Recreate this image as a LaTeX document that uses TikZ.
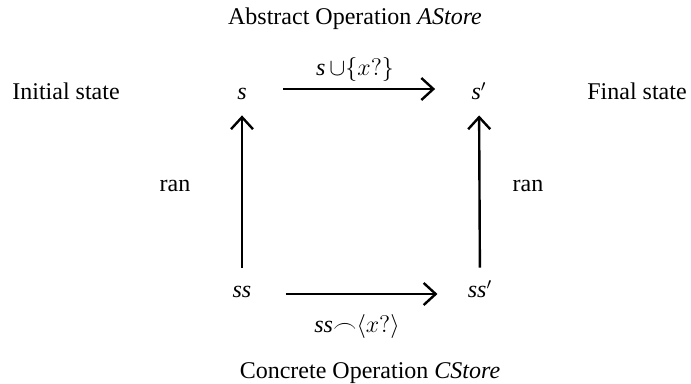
\documentclass[tikz,border=0pt]{standalone}
\usepackage{fontspec}
\setmainfont{Liberation Serif}
\usetikzlibrary{arrows.meta, positioning}
\newcommand{\st}[1]{\textit{#1}}

\begin{document}
\begin{tikzpicture}[
  x=0.5pt, y=-0.5pt,
  lbl/.style={inner sep=0pt, anchor=base, font=\fontsize{12}{14}\selectfont},
  corner/.style={lbl, text height=8pt, text depth=0pt},
  arr/.style={-{Straight Barb[length=6pt, width=11pt, line width=1.2pt]}, line width=1.2pt}
]
\useasboundingbox (0,0) rectangle (691,384);
\node[lbl] (atitle) at (355,25) {Abstract Operation \st{AStore}};
\node[lbl] (ctitle) at (370,379) {Concrete Operation \st{CStore}};

\node[corner] (s)   at (242,100) {\st{s}};
\node[corner] (s')  at (479,100) {\st{s}$'$};
\node[corner] (ss)  at (242,298) {\st{ss}};
\node[corner] (ss') at (480,298) {\st{ss}$'$};

\node[lbl] (init)  at (66,100)  {Initial state};
\node[lbl] (final) at (637,100) {Final state};
\node[lbl] (ranl)  at (175,192) {ran};
\node[lbl] (ranr)  at (528,192) {ran};
\node[lbl] (aop)   at (355,76)  {\st{s}$\,\cup\{x?\}$};
\node[lbl] (cop)   at (357,333) {\st{ss}$\mathord{\frown}\langle x?\rangle$};

\draw[arr, shorten <=18pt, shorten >=18pt] ([yshift=1.5pt]s.east) -- ([yshift=1.5pt]s'.west);
\draw[arr, shorten <=17pt, shorten >=15pt] ([yshift=-2pt]ss.east) -- ([yshift=-2pt]ss'.west);
\draw[arr, shorten <=7pt, shorten >=7.5pt] (ss) -- (s);
\draw[arr, shorten <=7pt, shorten >=7.5pt] (ss') -- (s');
\end{tikzpicture}
\end{document}
